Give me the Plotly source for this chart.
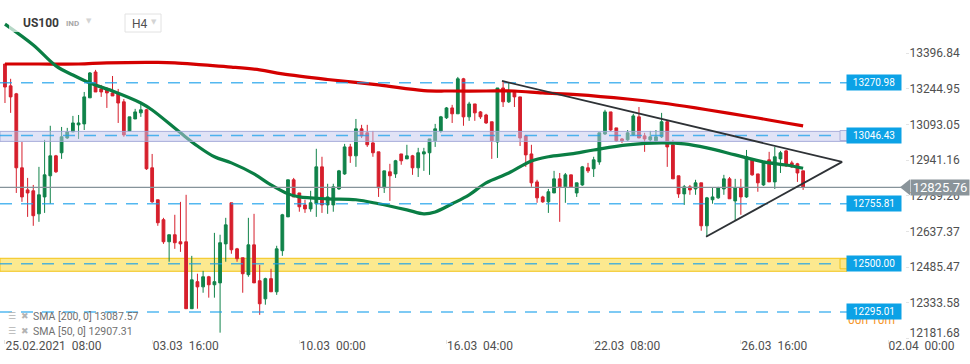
import plotly.graph_objects as go

# ---------------- data (US100, H4) ----------------
opens = [13351, 13258, 13224, 12909, 12815, 12811, 12713, 12785, 12875, 12960,
         12973, 13036, 13062, 13092, 13096, 13207, 13317, 13245, 13241, 13228,
         13224, 13190, 13066, 13117, 13143, 13156, 12909, 12773, 12688, 12594,
         12624, 12594, 12594, 12309, 12424, 12402, 12445, 12411, 12419, 12585,
         12760, 12564, 12526, 12454, 12581, 12428, 12351, 12437, 12381, 12556,
         12700, 12858, 12802, 12751, 12734, 12756, 12913, 12751, 12751, 12819,
         12883, 12998, 12960, 13075, 13058, 13015, 12977, 12824, 12892, 12883,
         12968, 12947, 12960, 12909, 12968, 12973, 13024, 13066, 13122, 13164,
         13139, 13288, 13126, 13181, 13147, 13134, 13105, 13019, 13249, 13190,
         13236, 13211, 13045, 12968, 12849, 12785, 12764, 12802, 12862, 12828,
         12879, 12802, 12836, 12909, 12905, 12934, 13053, 13147, 13079, 13032,
         13028, 13049, 13126, 13045, 13028, 13024, 13041, 13105, 13007, 12875,
         12798, 12828, 12819, 12845, 12662, 12773, 12781, 12819, 12862, 12768,
         12824, 12785, 12947, 12883, 12836, 12943, 12849, 12947, 12981, 12930,
         12926, 12896]
highs = [13351, 13288, 13228, 13019, 12866, 12836, 12913, 13028, 13088, 12964,
         13083, 13079, 13130, 13134, 13232, 13317, 13326, 13262, 13253, 13300,
         13245, 13202, 13126, 13160, 13185, 13160, 12968, 12773, 12696, 12624,
         12709, 12764, 12794, 12534, 12458, 12470, 12449, 12632, 12624, 12696,
         12760, 12568, 12526, 12696, 12713, 12496, 12441, 12479, 12577, 12713,
         12858, 12866, 12802, 12773, 12811, 12990, 12956, 12841, 12841, 12900,
         13011, 13011, 13117, 13092, 13092, 13066, 12977, 12896, 12926, 12943,
         12968, 13007, 12964, 12994, 12994, 13032, 13096, 13130, 13168, 13177,
         13296, 13292, 13190, 13181, 13151, 13139, 13105, 13249, 13279, 13270,
         13236, 13211, 13045, 13007, 12858, 12790, 12819, 12896, 12887, 12887,
         12879, 12845, 12917, 12930, 12956, 13058, 13156, 13147, 13079, 13036,
         13070, 13139, 13168, 13058, 13066, 13070, 13143, 13109, 13028, 12875,
         12836, 12836, 12858, 12845, 12785, 12824, 12828, 12879, 12870, 12862,
         12862, 12985, 12951, 12883, 12934, 12977, 12998, 12981, 12985, 12939,
         12930, 12896]
lows = [13185, 13143, 12802, 12764, 12700, 12662, 12679, 12717, 12756, 12887,
        12947, 13032, 13062, 13032, 13070, 13207, 13232, 13211, 13164, 13215,
        13100, 13041, 13066, 13117, 13126, 12900, 12760, 12662, 12585, 12509,
        12564, 12551, 12309, 12309, 12309, 12377, 12356, 12356, 12207, 12509,
        12543, 12509, 12377, 12445, 12419, 12283, 12326, 12381, 12368, 12534,
        12700, 12785, 12722, 12717, 12722, 12700, 12717, 12713, 12722, 12815,
        12879, 12930, 12913, 13036, 12998, 12956, 12785, 12802, 12768, 12866,
        12922, 12947, 12879, 12870, 12896, 12879, 12998, 13058, 13117, 13100,
        13139, 13088, 13109, 13109, 13117, 13096, 12947, 12951, 13168, 13185,
        13168, 13002, 12913, 12828, 12760, 12760, 12717, 12802, 12679, 12760,
        12824, 12785, 12832, 12887, 12870, 12922, 13049, 13066, 13019, 13015,
        13024, 13045, 13036, 12977, 13019, 13019, 13036, 12913, 12862, 12781,
        12751, 12794, 12794, 12641, 12615, 12756, 12777, 12794, 12777, 12683,
        12709, 12781, 12875, 12807, 12832, 12849, 12819, 12887, 12913, 12909,
        12849, 12815]
closes = [13253, 13211, 12909, 12785, 12802, 12705, 12794, 12879, 12960, 12892,
          13041, 13062, 13100, 13100, 13211, 13313, 13232, 13232, 13228, 13215,
          13185, 13049, 13126, 13147, 13156, 12905, 12764, 12675, 12594, 12624,
          12590, 12585, 12309, 12432, 12402, 12445, 12411, 12424, 12590, 12666,
          12560, 12522, 12458, 12581, 12419, 12330, 12437, 12381, 12564, 12709,
          12858, 12785, 12743, 12734, 12760, 12913, 12751, 12785, 12828, 12896,
          12998, 12960, 13075, 13045, 13007, 12973, 12824, 12896, 12875, 12939,
          12939, 12960, 12909, 12973, 12977, 13032, 13075, 13126, 13164, 13139,
          13288, 13126, 13181, 13143, 13126, 13100, 13024, 13249, 13190, 13236,
          13211, 13036, 12964, 12845, 12781, 12764, 12807, 12862, 12828, 12879,
          12828, 12845, 12913, 12896, 12943, 13058, 13147, 13070, 13024, 13024,
          13058, 13130, 13036, 13032, 13041, 13041, 13105, 12998, 12862, 12798,
          12828, 12815, 12845, 12662, 12781, 12785, 12824, 12862, 12777, 12824,
          12785, 12956, 12879, 12845, 12934, 12849, 12956, 12973, 12917, 12913,
          12887, 12825.76]
bar_index = list(range(len(opens)))

# SMA readings (bar index, value)
sma200_idx = [0, 6, 13, 18, 27, 30, 35, 40, 45, 49, 57, 66, 74, 79, 85, 90, 95,
              101, 110, 116, 122, 128, 133, 138, 141]
sma200_val = [13351, 13351, 13351, 13356, 13358, 13356, 13347, 13338, 13326,
              13309, 13285, 13262, 13238, 13236, 13236, 13236, 13228, 13221,
              13202, 13185, 13164, 13141, 13121, 13100, 13087.57]
sma50_idx = [0, 5, 9, 12, 15, 19, 24, 26, 31, 34, 37, 40, 44, 47, 50, 52, 57,
             62, 66, 71, 74, 76, 79, 82, 85, 89, 93, 96, 100, 104, 110, 116,
             120, 124, 129, 134, 138, 141]
sma50_val = [13521, 13432, 13343, 13304, 13270, 13236, 13185, 13155, 13058,
             13002, 12956, 12930, 12883, 12836, 12798, 12785, 12777, 12773,
             12756, 12730, 12713, 12721, 12756, 12794, 12845, 12887, 12938,
             12956, 12968, 12985, 13007, 13015, 13011, 12994, 12964, 12934,
             12921, 12907.31]

tick_pos = [0, 26, 52, 78, 104, 130, 156]
tick_text = ["25.02.2021\u00a0\u00a008:00", "03.03\u00a0\u00a016:00", "10.03\u00a0\u00a000:00",
             "16.03\u00a0\u00a004:00", "22.03\u00a0\u00a008:00", "26.03\u00a0\u00a016:00",
             "02.04\u00a0\u00a000:00"]
y_ticks = [13396.84, 13244.95, 13093.05, 12941.16, 12789.26, 12637.37,
           12485.47, 12333.58]
y_tick_text = ["13396.84", "13244.95", "13093.05", "12941.16", "12789.26",
               "12637.37", "12485.47", "12333.58"]
y_tick_bottom = [12181.68]
y_tick_bottom_text = ["12181.68"]

levels = [13270.98, 13046.43, 12755.81, 12500.00, 12295.01]
level_text = ["13270.98", "13046.43", "12755.81", "12500.00", "12295.01"]
last_price = 12825.76
band_purple = (13021.5, 13064.1)
band_yellow = (12468.4, 12523.7)
trend_upper = [(87.8, 13278.9), (147.9, 12934.3)]
trend_lower = [(123.85, 12615.2), (147.9, 12934.3)]
legend_rows = ["SMA [200, 0] 13087.57", "SMA [50, 0] 12907.31"]

# ---------------- layout constants ----------------
W, H = 970, 364
ML, MR, MT, MB = 0, 65, 0, 25
PW, PH = W - ML - MR, H - MT - MB
Y_MIN, Y_MAX = 12180.0, 13623.6
X_MIN, X_MAX = -0.88, 159.0
K = (Y_MAX - Y_MIN) / PH  # price per pixel


def px(xp):
    return xp / PW


def py(yp):
    return 1 - yp / PH


RED = "#d61f2c"
GREEN = "#10834a"
BLUE = "#0ca2e6"
FONT = "Roboto"

fig = go.Figure()
fig.add_trace(go.Candlestick(
    x=bar_index, open=opens, high=highs, low=lows, close=closes,
    increasing=dict(line=dict(color=GREEN, width=1), fillcolor=GREEN),
    decreasing=dict(line=dict(color=RED, width=1), fillcolor=RED),
    whiskerwidth=0, hoverinfo="skip",
))
fig.add_trace(go.Scatter(x=sma200_idx, y=sma200_val, mode="lines",
                         line=dict(color="#d40000", width=3.2, shape="spline"),
                         hoverinfo="skip"))
fig.add_trace(go.Scatter(x=sma50_idx, y=sma50_val, mode="lines",
                         line=dict(color="#0a7e44", width=3.2, shape="spline"),
                         hoverinfo="skip"))
# invisible helper trace so the secondary (bottom-label) axis is drawn
fig.add_trace(go.Scatter(x=[X_MIN], y=[Y_MIN], yaxis="y2", mode="markers",
                         marker=dict(opacity=0), hoverinfo="skip"))

shapes = []
# yellow support band (below candles)
shapes.append(dict(type="rect", xref="paper", yref="y", x0=0, x1=px(847),
                   y0=band_yellow[0], y1=band_yellow[1], layer="below",
                   fillcolor="#fce98f", line=dict(color="#f2c418", width=1)))
# lavender band (above candles, translucent)
shapes.append(dict(type="rect", xref="paper", yref="y", x0=0, x1=px(847),
                   y0=band_purple[0], y1=band_purple[1], layer="above",
                   fillcolor="rgba(196,200,238,0.5)",
                   line=dict(color="rgba(160,166,215,0.9)", width=1)))
# dashed levels
for lv in levels:
    shapes.append(dict(type="line", xref="paper", yref="y", x0=0, x1=px(847),
                       y0=lv, y1=lv, layer="above",
                       line=dict(color="rgba(25,160,235,0.75)", width=1.5,
                                 dash="12px,9px")))
# last price line
shapes.append(dict(type="line", xref="paper", yref="y", x0=0, x1=1,
                   y0=last_price, y1=last_price, layer="above",
                   line=dict(color="#86939a", width=1.2)))
# triangle trend lines
for seg in (trend_upper, trend_lower):
    shapes.append(dict(type="line", xref="x", yref="y", x0=seg[0][0], y0=seg[0][1],
                       x1=seg[1][0], y1=seg[1][1], layer="above",
                       line=dict(color="#2e3236", width=1.8)))
# small band markers near the level boxes
shapes.append(dict(type="rect", xref="paper", yref="y", x0=px(840), x1=px(847),
                   y0=levels[1] - 5 * K, y1=levels[1] + 5 * K, layer="above",
                   fillcolor="#e2e4f6", line=dict(color="#a9aedb", width=1)))
shapes.append(dict(type="rect", xref="paper", yref="y", x0=px(840), x1=px(847),
                   y0=levels[3] - 5 * K, y1=levels[3] + 5 * K, layer="above",
                   fillcolor="#fde78a", line=dict(color="#f0c419", width=1)))
# last-price marker arrow
shapes.append(dict(type="path", xref="paper", yref="y", layer="above",
                   path=f"M {px(900)},{last_price} L {px(910)},{last_price + 8 * K} "
                        f"L {px(910)},{last_price - 8 * K} Z",
                   fillcolor="#8a949a", line=dict(width=0)))
# header background + timeframe box
shapes.append(dict(type="rect", xref="paper", yref="paper", x0=px(9), x1=px(175),
                   y0=py(32), y1=py(10), layer="above",
                   fillcolor="rgba(255,255,255,0.7)", line=dict(width=0)))
shapes.append(dict(type="rect", xref="paper", yref="paper", x0=px(125), x1=px(161),
                   y0=py(32), y1=py(14), layer="above",
                   fillcolor="white", line=dict(color="#e2e2e2", width=1)))

ann = []
ann.append(dict(xref="paper", yref="paper", x=px(21), y=py(23), xanchor="left",
                yanchor="middle", text="<b>US100</b>", showarrow=False,
                font=dict(family=FONT, size=12, color="#3a3a3a")))
ann.append(dict(xref="paper", yref="paper", x=px(64), y=py(23.5), xanchor="left",
                yanchor="middle", text="<b>IND</b>", showarrow=False,
                font=dict(family=FONT, size=8, color="#a8a8a8")))
ann.append(dict(xref="paper", yref="paper", x=px(84), y=py(21), xanchor="left",
                yanchor="middle", text="▼", showarrow=False,
                font=dict(family="DejaVu Sans", size=7, color="#d4d4d4")))
ann.append(dict(xref="paper", yref="paper", x=px(130), y=py(23.5), xanchor="left",
                yanchor="middle", text="H4", showarrow=False,
                font=dict(family=FONT, size=12, color="#505050")))
ann.append(dict(xref="paper", yref="paper", x=px(149), y=py(22), xanchor="left",
                yanchor="middle", text="▼", showarrow=False,
                font=dict(family="DejaVu Sans", size=7, color="#d4d4d4")))
# legend rows
for i, row in enumerate(legend_rows):
    yy = py(316 + 15 * i)
    ann.append(dict(xref="paper", yref="paper", x=px(6), y=yy, xanchor="left",
                    yanchor="middle", text="☰", showarrow=False,
                    font=dict(family="DejaVu Sans", size=9, color="#b3b3b3")))
    ann.append(dict(xref="paper", yref="paper", x=px(19), y=yy, xanchor="left",
                    yanchor="middle", text="✖", showarrow=False,
                    font=dict(family="DejaVu Sans", size=9, color="#b3b3b3")))
    ann.append(dict(xref="paper", yref="paper", x=px(31), y=yy, xanchor="left",
                    yanchor="middle", text=row, showarrow=False,
                    font=dict(family=FONT, size=10.5, color="#707070")))
# countdown (mostly hidden by the level box)
ann.append(dict(xref="paper", yref="paper", x=px(846), y=py(320), xanchor="left",
                yanchor="middle", text="00h 10m", showarrow=False,
                font=dict(family=FONT, size=12, color="#f5962a")))
# level boxes
for lv, txt in zip(levels, level_text):
    ann.append(dict(xref="paper", yref="y", x=px(902), y=lv, xanchor="right",
                    yanchor="middle", text=txt, showarrow=False, bgcolor=BLUE,
                    width=52, height=13, borderpad=1, align="center",
                    font=dict(family=FONT, size=10, color="white")))
# last price box
ann.append(dict(xref="paper", yref="y", x=px(910), y=last_price, xanchor="left",
                yanchor="middle", text="12825.76", showarrow=False,
                bgcolor="#8a949a", width=58, height=15, borderpad=0, align="center",
                font=dict(family=FONT, size=13, color="white")))

yaxis_common = dict(range=[Y_MIN, Y_MAX], side="right", tickmode="array",
                    showgrid=False, zeroline=False, ticks="outside", ticklen=3,
                    tickcolor="#e4e4e4", ticklabelstandoff=-2,
                    tickfont=dict(family=FONT, size=12, color="#505050"),
                    showline=False)

fig.update_layout(
    width=W, height=H, margin=dict(l=ML, r=MR, t=MT, b=MB),
    plot_bgcolor="white", paper_bgcolor="white", showlegend=False,
    font=dict(family=FONT, size=12, color="#555"),
    shapes=shapes, annotations=ann,
    xaxis=dict(range=[X_MIN, X_MAX], tickmode="array", tickvals=tick_pos,
               ticktext=tick_text, showgrid=False, zeroline=False,
               ticks="outside", ticklen=4, tickcolor="#e4e4e4",
               ticklabelposition="outside right", ticklabelstandoff=-4,
               tickfont=dict(family=FONT, size=12, color="#505050"),
               rangeslider=dict(visible=False), showline=False),
    yaxis=dict(tickvals=y_ticks, ticktext=y_tick_text, **yaxis_common),
    yaxis2=dict(tickvals=y_tick_bottom, ticktext=y_tick_bottom_text,
                overlaying="y", ticklabelshift=-6, **yaxis_common),
)

fig.write_html("out.html",
               config={"displayModeBar": False},
               post_script="document.body.style.margin='0';"
                           "document.body.style.overflow='hidden';")
